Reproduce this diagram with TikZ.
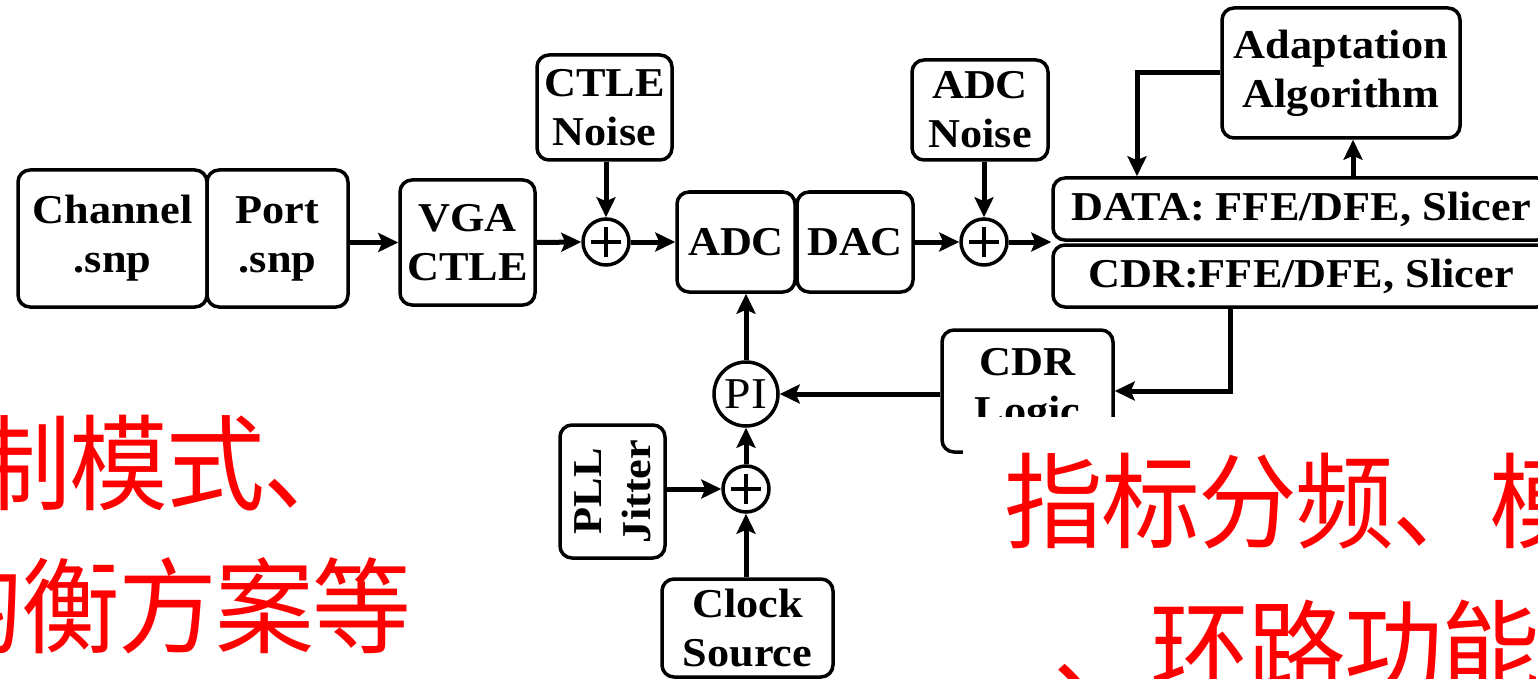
\documentclass[tikz,border=0pt]{standalone}
\usepackage{fontspec}
\newfontfamily\dfont{Liberation Serif}[FakeStretch=1.08]
\newfontfamily\cjk{Noto Sans CJK SC}[FakeStretch=0.95]
\usetikzlibrary{arrows.meta,calc}
\newcommand\cjkc[1]{\makebox[97pt][c]{#1}}
\begin{document}
\begin{tikzpicture}[x=1pt,y=-1pt,
  blk/.style={draw, line width=3.5pt, rounded corners=12pt, inner sep=0pt, align=center,
    font=\dfont\bfseries\fontsize{41}{49}\selectfont},
  sumc/.style={draw, circle, line width=3.5pt, minimum size=46pt, inner sep=0pt,
    path picture={\draw[line width=3.5pt]
      ([xshift=-15pt]path picture bounding box.center) -- ([xshift=15pt]path picture bounding box.center)
      ([yshift=-15pt]path picture bounding box.center) -- ([yshift=15pt]path picture bounding box.center);}},
  arr/.style={line width=5pt, -{Stealth[length=20pt,width=19pt,inset=4pt]}},
  redtxt/.style={text=red, font=\cjk\fontsize{104}{104}\selectfont, inner sep=0pt, anchor=base west}
]
\useasboundingbox (0,0) rectangle (1538,679);
\clip (0,0) rectangle (1538,679);

% blocks
\node[blk, minimum width=189pt, minimum height=137pt] (chan) at (112.5,238.5) {Channel\\.snp};
\node[blk, minimum width=141pt, minimum height=137pt] (port) at (277.5,238.5) {Port\\.snp};
\node[blk, minimum width=135pt, minimum height=125pt] (vga) at (467.5,242.5) {VGA\\CTLE};
\node[blk, minimum width=135pt, minimum height=105pt] (ctn) at (604.5,107.5) {CTLE\\Noise};
\node[sumc] (s1) at (606,242) {};
\node[blk, minimum width=118pt, minimum height=100pt] (adc) at (736,242) {ADC};
\node[blk, minimum width=116pt, minimum height=100pt] (dac) at (855,242) {DAC};
\node[blk, minimum width=136pt, minimum height=100pt] (adn) at (980,110) {ADC\\Noise};
\node[sumc] (s2) at (984,242) {};
\node[blk, minimum width=496pt, minimum height=62pt] (data) at (1301,209) {DATA: FFE/DFE, Slicer};
\node[blk, minimum width=496pt, minimum height=62pt] (cdrr) at (1301,276) {CDR:FFE/DFE, Slicer};
\node[blk, minimum width=238pt, minimum height=130pt] (adapt) at (1341,73) {Adaptation\\Algorithm};
\node[blk, minimum width=171pt, minimum height=122pt] (cdrl) at (1027.5,391) {CDR\\Logic};
\node[draw, circle, line width=3.5pt, minimum size=64pt, inner sep=0pt,
      font=\dfont\fontsize{44}{44}\selectfont] (pi) at (746,394) {PI};
\node[sumc] (s3) at (746,489) {};
\node[blk, rotate=90, minimum width=133pt, minimum height=105pt] (pll) at (612.5,491.5) {PLL\\Jitter};
\node[blk, minimum width=171pt, minimum height=98pt] (clk) at (747.5,628) {Clock\\Source};

% connectors
\coordinate (ax) at (1137,0);
\coordinate (ux) at (1353,0);
\coordinate (cx) at (1230,0);
\draw[arr] (port.east |- vga.west) -- (vga.west);
\draw[arr] (vga.east) -- (s1.west);
\draw[arr] (s1.north |- ctn.south) -- (s1.north);
\draw[arr] (s1.east) -- (s1.east -| adc.west);
\draw[arr] (dac.east) -- (s2.west);
\draw[arr] (s2.north |- adn.south) -- (s2.north);
\draw[arr] (s2.east) -- (s2.east -| data.west);
\draw[arr] (adapt.west) -| (ax |- data.north);
\draw[arr] (ux |- data.north) -- (ux |- adapt.south);
\draw[arr] (cx |- cdrr.south) |- (cdrl.east);
\draw[arr] (cdrl.west |- pi.east) -- (pi.east);
\draw[arr] (pi.north) -- (pi.north |- adc.south);
\draw[arr] (s3.north) -- (pi.south);
\draw[arr] (pll.south |- s3.west) -- (s3.west);
\draw[arr] (clk.north -| s3.south) -- (s3.south);

% overlay text
\fill[white] (963,417) rectangle (1540,681);
\node[redtxt] (t1) at (-124,502) {\cjkc{调}\cjkc{制}\cjkc{模}\cjkc{式}\cjkc{、}};
\node[redtxt] (t2) at (-75,645) {\cjkc{均}\cjkc{衡}\cjkc{方}\cjkc{案}\cjkc{等}};
\node[redtxt] (t3) at (1005.5,540) {\cjkc{指}\cjkc{标}\cjkc{分}\cjkc{频}\cjkc{、}\cjkc{模}};
\node[redtxt] (t4) at (1054.5,687) {\cjkc{、}\cjkc{环}\cjkc{路}\cjkc{功}\cjkc{能}};
\end{tikzpicture}
\end{document}
